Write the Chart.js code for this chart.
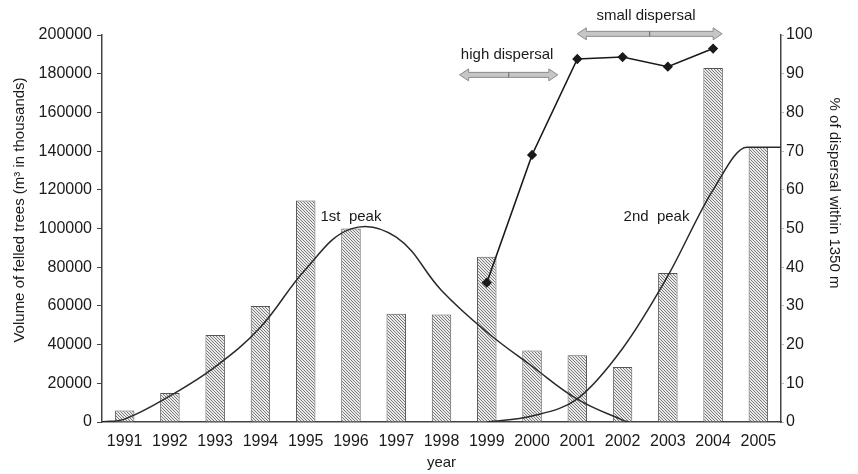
<!DOCTYPE html>
<html>
<head>
<meta charset="utf-8">
<script src="https://cdn.jsdelivr.net/npm/chart.js@4.4.1/dist/chart.umd.min.js"></script>
<style>
  html, body { margin: 0; padding: 0; background: #ffffff; }
  #wrap { width: 858px; height: 474px; }
</style>
</head>
<body>
<div id="wrap"><canvas id="c" width="858" height="474"></canvas></div>
<script>
// ---- data ----
const years = ['1991','1992','1993','1994','1995','1996','1997','1998','1999','2000','2001','2002','2003','2004','2005'];
const felledVolume = [6000, 15000, 45000, 60000, 114500, 100000, 56000, 55500, 85400, 37000, 34500, 28400, 77000, 183000, 142000];
const dispersalPct = [null, null, null, null, null, null, null, null, 36, 69, 93.8, 94.3, 91.8, 96.5, null];

// fitted peak curves (x in years, y in volume)
const peak1Years = [1990.5, 1991, 1992, 1993, 1994, 1995, 1996, 1997, 1998, 1999, 2000, 2001, 2002, 2002.15];
const peak1Values = [0, 1500, 13500, 28500, 49000, 79000, 99800, 95500, 68000, 46500, 28800, 11800, 1000, 0];
const peak2Years = [1999, 2000, 2001, 2002, 2003, 2004, 2004.75, 2005.5];
const peak2Values = [0, 3100, 12000, 38000, 75500, 120000, 142000, 142000];

// annotations (data units)
const arrowNames = ['high dispersal', 'small dispersal'];
const arrowStart = [1998.4, 2001.0];
const arrowEnd = [2000.57, 2004.2];
const arrowLevelPct = [89.7, 100.3];
const arrowTextPct = [94.8, 104.9];
const arrowTextYear = [1999.45, 2002.52];
const peakNames = ['1st  peak', '2nd  peak'];
const peakTextYear = [1996.0, 2002.75];
const peakTextVolume = [106000, 106000];

// ---- hatch pattern ----
function makeHatchCanvas() {
  const s = 3;
  const pc = document.createElement('canvas');
  pc.width = s; pc.height = s;
  const g = pc.getContext('2d');
  g.fillStyle = '#ebebeb';
  g.fillRect(0, 0, s, s);
  g.strokeStyle = '#7a7a7a';
  g.lineWidth = 1;
  g.beginPath();
  g.moveTo(-1, -1); g.lineTo(s + 1, s + 1);
  g.moveTo(-1, s - 1); g.lineTo(1, s + 1);
  g.moveTo(s - 1, -1); g.lineTo(s + 1, 1);
  g.stroke();
  return pc;
}
const ctx = document.getElementById('c').getContext('2d');
const hatch = ctx.createPattern(makeHatchCanvas(), 'repeat');

const FONT = "'Liberation Sans', Arial, sans-serif";
const TXT = '#1a1a1a';

const annotationPlugin = {
  id: 'annot',
  afterDatasetsDraw(chart) {
    const c = chart.ctx;
    const xs = chart.scales.x2, yp = chart.scales.y1, yv = chart.scales.y;
    c.save();
    // arrows
    for (let i = 0; i < arrowNames.length; i++) {
      const x1 = xs.getPixelForValue(arrowStart[i]);
      const x2 = xs.getPixelForValue(arrowEnd[i]);
      const y = yp.getPixelForValue(arrowLevelPct[i]);
      const sh = 2.5, hl = 9, hh = 6;
      c.beginPath();
      c.moveTo(x1, y);
      c.lineTo(x1 + hl, y - hh);
      c.lineTo(x1 + hl, y - sh);
      c.lineTo(x2 - hl, y - sh);
      c.lineTo(x2 - hl, y - hh);
      c.lineTo(x2, y);
      c.lineTo(x2 - hl, y + hh);
      c.lineTo(x2 - hl, y + sh);
      c.lineTo(x1 + hl, y + sh);
      c.lineTo(x1 + hl, y + hh);
      c.closePath();
      c.fillStyle = '#c6c6c6';
      c.fill();
      c.strokeStyle = '#8c8c8c';
      c.lineWidth = 1;
      c.stroke();
      const xm = (x1 + x2) / 2;
      c.beginPath();
      c.moveTo(xm, y - sh); c.lineTo(xm, y + sh);
      c.strokeStyle = '#666';
      c.stroke();
      c.fillStyle = TXT;
      c.font = '15px ' + FONT;
      c.textAlign = 'center';
      c.textBaseline = 'middle';
      c.fillText(arrowNames[i], xs.getPixelForValue(arrowTextYear[i]), yp.getPixelForValue(arrowTextPct[i]));
    }
    // peak labels
    for (let i = 0; i < peakNames.length; i++) {
      c.fillStyle = TXT;
      c.font = '15px ' + FONT;
      c.textAlign = 'center';
      c.textBaseline = 'middle';
      c.fillText(peakNames[i], xs.getPixelForValue(peakTextYear[i]), yv.getPixelForValue(peakTextVolume[i]));
    }
    // axis titles (vertical)
    c.font = '15px ' + FONT;
    c.fillStyle = TXT;
    c.textAlign = 'center';
    c.textBaseline = 'middle';
    c.save();
    c.translate(20, 210);
    c.rotate(-Math.PI / 2);
    c.fillText('Volume of felled trees (m³ in thousands)', 0, 0);
    c.restore();
    c.save();
    c.translate(834, 193);
    c.rotate(Math.PI / 2);
    c.fillText('% of dispersal within 1350 m', 0, 0);
    c.restore();
    c.restore();
  }
};

new Chart(ctx, {
  data: {
    labels: years,
    datasets: [
      {
        type: 'line',
        label: '% dispersal',
        data: dispersalPct,
        yAxisID: 'y1',
        xAxisID: 'x',
        borderColor: '#1a1a1a',
        borderWidth: 1.6,
        pointStyle: 'rectRot',
        pointRadius: 4,
        pointBackgroundColor: '#1a1a1a',
        pointBorderColor: '#1a1a1a',
        spanGaps: false,
        tension: 0,
        order: 1
      },
      {
        type: 'line',
        label: '1st peak',
        data: peak1Years.map((x, i) => ({ x: x, y: peak1Values[i] })),
        xAxisID: 'x2',
        yAxisID: 'y',
        borderColor: '#2a2a2a',
        borderWidth: 1.5,
        pointRadius: 0,
        tension: 0.4,
        order: 2
      },
      {
        type: 'line',
        label: '2nd peak',
        data: peak2Years.map((x, i) => ({ x: x, y: peak2Values[i] })),
        xAxisID: 'x2',
        yAxisID: 'y',
        borderColor: '#2a2a2a',
        borderWidth: 1.5,
        pointRadius: 0,
        cubicInterpolationMode: 'monotone',
        order: 2
      },
      {
        type: 'bar',
        label: 'Volume',
        data: felledVolume,
        xAxisID: 'x',
        yAxisID: 'y',
        backgroundColor: hatch,
        borderColor: '#555555',
        borderWidth: 1,
        borderSkipped: 'bottom',
        grouped: false,
        categoryPercentage: 1.0,
        barPercentage: 0.43,
        order: 3
      }
    ]
  },
  options: {
    responsive: false,
    animation: false,
    devicePixelRatio: 1,
    layout: { padding: { top: 35, left: 0, right: 0, bottom: 0 } },
    plugins: { legend: { display: false }, tooltip: { enabled: false } },
    scales: {
      x: {
        type: 'category',
        position: 'bottom',
        offset: true,
        afterFit(s) { s.height = 52; },
        grid: { display: true, drawOnChartArea: false, drawTicks: false, offset: true },
        border: { display: true, color: '#444', width: 1.5 },
        ticks: { color: TXT, font: { family: FONT, size: 16 }, padding: 10, maxRotation: 0, autoSkip: false },
        title: { display: true, text: 'year', color: TXT, font: { family: FONT, size: 15 }, padding: { top: 0, bottom: 2 } }
      },
      x2: {
        type: 'linear',
        display: false,
        min: 1990.5,
        max: 2005.5
      },
      y: {
        position: 'left',
        min: 0,
        max: 200000,
        afterFit(s) { s.width = 102; },
        grid: { drawOnChartArea: false, drawTicks: true, tickLength: 5, color: '#444' },
        border: { display: true, color: '#444', width: 1.5 },
        ticks: { stepSize: 20000, color: TXT, font: { family: FONT, size: 16 }, padding: 5, callback: v => String(v) }
      },
      y1: {
        position: 'right',
        min: 0,
        max: 100,
        afterFit(s) { s.width = 77; },
        grid: { drawOnChartArea: false, drawTicks: true, tickLength: 3, color: '#bbb' },
        border: { display: true, color: '#444', width: 1.5 },
        ticks: { stepSize: 10, color: TXT, font: { family: FONT, size: 16 }, padding: 2, callback: v => String(v) }
      }
    }
  },
  plugins: [annotationPlugin]
});
</script>
</body>
</html>
